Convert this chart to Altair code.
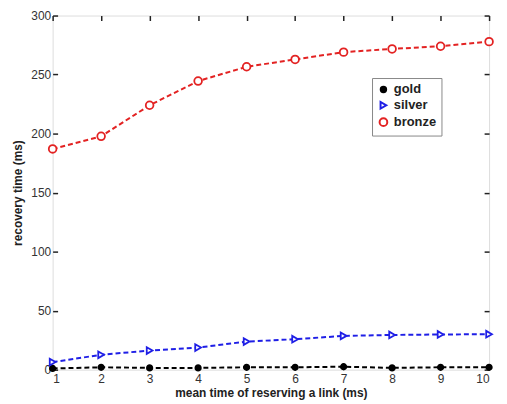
import altair as alt
import pandas as pd

x_vals = [1, 2, 3, 4, 5, 6, 7, 8, 9, 10]
gold = [1.0, 2.0, 1.5, 1.5, 2.0, 2.0, 2.5, 1.5, 2.0, 2.0]
silver = [6.4, 12.6, 16.2, 18.7, 23.8, 25.8, 28.6, 29.4, 29.8, 30.0]
bronze = [187, 197.7, 224, 244.5, 256.6, 262.8, 269, 271.7, 274, 277.9]
series_names = ["gold", "silver", "bronze"]
series_colors = ["#000000", "#1f1fe6", "#e32222"]
series_shapes = ["circle", "triangle-right", "circle"]
series_fills = ["#000000", "#ffffff", "#ffffff"]
series_sizes = [30, 60, 70]
x_ticks = [1, 2, 3, 4, 5, 6, 7, 8, 9, 10]
y_ticks = [0, 50, 100, 150, 200, 250, 300]

rows = []
for name, vals in zip(series_names, [gold, silver, bronze]):
    for xv, yv in zip(x_vals, vals):
        rows.append({"x": xv, "y": yv, "series": name})
df = pd.DataFrame(rows)

FONT = "Liberation Sans"
xscale = alt.Scale(domain=[1, 10], nice=False, zero=False)
yscale = alt.Scale(domain=[0, 300], nice=False)
cscale = alt.Scale(domain=series_names, range=series_colors)
sscale = alt.Scale(domain=series_names, range=series_shapes)
fscale = alt.Scale(domain=series_names, range=series_fills)
zscale = alt.Scale(domain=series_names, range=series_sizes)

x_axis = alt.Axis(values=x_ticks, title="mean time of reserving a link (ms)", grid=False,
                  domain=False, offset=-5, tickSize=5, tickWidth=1.5, tickColor="#222",
                  labelPadding=4, labelFontSize=12, labelColor="#333", labelFont=FONT,
                  titleFont=FONT, titleFontSize=12, titleFontWeight="bold", titleColor="#222",
                  titlePadding=3)
y_axis = alt.Axis(values=y_ticks, title="recovery time (ms)", grid=False,
                  domain=False, offset=-5, tickSize=5, tickWidth=1.5, tickColor="#222",
                  labelPadding=2, labelFontSize=12, labelColor="#333", labelFont=FONT,
                  titleFont=FONT, titleFontSize=12, titleFontWeight="bold", titleColor="#222",
                  titlePadding=6)

legend = alt.Legend(
    title=None, orient="none", legendX=322, legendY=63,
    strokeColor="#888", fillColor="white", padding=5,
    labelFont=FONT, labelFontSize=13, labelFontWeight="bold", labelColor="#222",
    symbolStrokeWidth=2, rowPadding=1)

base = alt.Chart(df)

lines = base.mark_line(strokeDash=[5, 3], strokeWidth=2).encode(
    x=alt.X("x:Q", scale=xscale, axis=x_axis),
    y=alt.Y("y:Q", scale=yscale, axis=y_axis),
    color=alt.Color("series:N", scale=cscale, legend=legend),
    detail="series:N",
)

points = base.mark_point(strokeWidth=1.8, opacity=1).encode(
    x=alt.X("x:Q", scale=xscale, axis=None),
    y=alt.Y("y:Q", scale=yscale, axis=None),
    color=alt.Color("series:N", scale=cscale, legend=legend),
    shape=alt.Shape("series:N", scale=sscale, legend=legend),
    fill=alt.Fill("series:N", scale=fscale, legend=legend),
    size=alt.Size("series:N", scale=zscale, legend=legend),
)

top_right = alt.Chart(pd.DataFrame({"x": [1], "y": [0]})).mark_point(opacity=0).encode(
    x=alt.X("x:Q", scale=xscale, axis=alt.Axis(orient="top", values=x_ticks, labels=False,
                                               title=None, domain=False, offset=-5, tickSize=5,
                                               tickWidth=1.5, tickColor="#222", grid=False)),
    y=alt.Y("y:Q", scale=yscale, axis=alt.Axis(orient="right", values=y_ticks, labels=False,
                                               title=None, domain=False, offset=-5, tickSize=5,
                                               tickWidth=1.5, tickColor="#222", grid=False)),
)

chart = alt.layer(lines, points, top_right).resolve_axis(x="independent", y="independent").properties(
    width=440, height=357,
    autosize=alt.AutoSizeParams(type="none"),
    padding={"left": 45, "top": 6, "right": 10, "bottom": 30},
).configure_view(stroke="#111", strokeWidth=2).configure(background="white")

chart.save("out.html", embed_options={"renderer": "svg", "actions": False})
